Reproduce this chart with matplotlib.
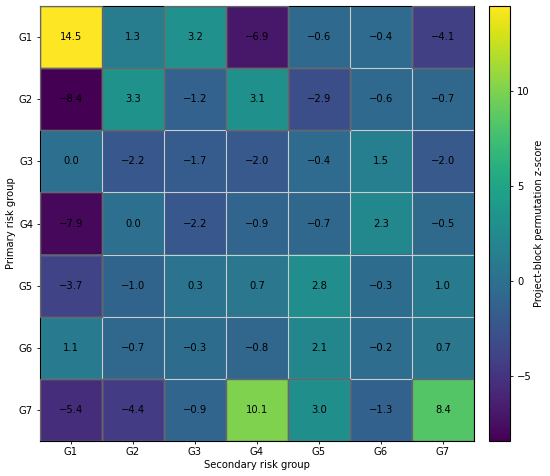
import numpy as np
import matplotlib
matplotlib.use("Agg")
import matplotlib.pyplot as plt
from matplotlib.patches import Rectangle

# --- Data ---
groups = ["G1", "G2", "G3", "G4", "G5", "G6", "G7"]

# rows = primary risk group, cols = secondary risk group
row_g1 = [14.5, 1.3, 3.2, -6.9, -0.6, -0.4, -4.1]
row_g2 = [-8.4, 3.3, -1.2, 3.1, -2.9, -0.6, -0.7]
row_g3 = [0.0, -2.2, -1.7, -2.0, -0.4, 1.5, -2.0]
row_g4 = [-7.9, 0.0, -2.2, -0.9, -0.7, 2.3, -0.5]
row_g5 = [-3.7, -1.0, 0.3, 0.7, 2.8, -0.3, 1.0]
row_g6 = [1.1, -0.7, -0.3, -0.8, 2.1, -0.2, 0.7]
row_g7 = [-5.4, -4.4, -0.9, 10.1, 3.0, -1.3, 8.4]

SIG_Z = 2.85  # cells outlined in dark grey

z = np.array([row_g1, row_g2, row_g3, row_g4, row_g5, row_g6, row_g7])
n = len(groups)

plt.rcParams.update({
    "font.size": 7.2,
    "xtick.major.size": 2.5,
    "ytick.major.size": 2.5,
    "xtick.major.width": 0.6,
    "ytick.major.width": 0.6,
    "axes.linewidth": 0.8,
    "xtick.major.pad": 2.0,
    "ytick.major.pad": 2.5,
    "axes.labelpad": 1.8,
})

fig = plt.figure(figsize=(5.5, 4.76), dpi=100)
ax = fig.add_axes([40 / 550, 35 / 476, 434 / 550, 435 / 476])
cax = fig.add_axes([489 / 550, 35 / 476, 21 / 550, 435 / 476])

im = ax.imshow(z, cmap="viridis", aspect="auto")

# light cell grid
for k in range(n + 1):
    ax.axhline(k - 0.5, color="0.8", linewidth=0.8, zorder=2)
    ax.axvline(k - 0.5, color="0.8", linewidth=0.8, zorder=2)

# dark outline around strong cells
for i in range(n):
    for j in range(n):
        if abs(z[i, j]) >= SIG_Z:
            ax.add_patch(Rectangle((j - 0.5, i - 0.5), 1, 1, fill=False,
                                   edgecolor="0.4", linewidth=1.0, zorder=3))
        ax.text(j, i, f"{z[i, j]:.1f}".replace("-", "\u2212"), ha="center", va="center",
                fontsize=7.2, color="black", zorder=4)

ax.set_xlim(-0.5, n - 0.5)
ax.set_ylim(n - 0.5, -0.5)
ax.set_xticks(range(n))
ax.set_xticklabels(groups)
ax.set_yticks(range(n))
ax.set_yticklabels(groups)
ax.set_xlabel("Secondary risk group")
ax.set_ylabel("Primary risk group")

cb = fig.colorbar(im, cax=cax)
cb.outline.set_linewidth(0.8)
cb.set_label("Project-block permutation z-score")

fig.savefig("out.png", dpi=100)
